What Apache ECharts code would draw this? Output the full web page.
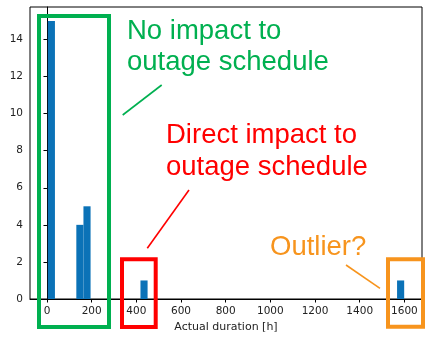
<!DOCTYPE html>
<html>
<head>
<meta charset="utf-8">
<script src="https://cdn.jsdelivr.net/npm/echarts@6/dist/echarts.min.js"></script>
<style>
  html, body { margin: 0; padding: 0; background: #fff; }
  #chart { width: 430px; height: 342px; }
</style>
</head>
<body>
<div id="chart"></div>
<script>
// Histogram of actual outage durations (hours), 50 bins; only non-empty bins listed
const binLeft  = [3.8, 131.4, 163.3, 418.5, 1567.1];
const binRight = [35.7, 163.3, 195.2, 450.4, 1599.0];
const counts   = [15, 4, 5, 1, 1];

const xTicks = [0, 200, 400, 600, 800, 1000, 1200, 1400, 1600];
const yTicks = [0, 2, 4, 6, 8, 10, 12, 14];
const xRange = [-75.96, 1678.76];
const yRange = [0, 15.75];

const barColor = '#0b72b7';
const green = '#00b050';
const red = '#ff0000';
const orange = '#f7941d';
const labelFont = 'DejaVu Sans';
const noteFont = '"Liberation Sans", Arial, sans-serif';

const bins = binLeft.map((l, i) => [l, binRight[i], counts[i]]);

const chart = echarts.init(document.getElementById('chart'), null, { renderer: 'canvas' });

function note(text, x, y, color) {
  return {
    type: 'text', z: 100, x: x, y: y,
    style: { text: text, fill: color, font: '27.5px ' + noteFont, verticalAlign: 'middle', align: 'left' }
  };
}
function box(x, y, w, h, color) {
  return {
    type: 'rect', z: 100,
    shape: { x: x, y: y, width: w, height: h },
    style: { fill: 'none', stroke: color, lineWidth: 4 }
  };
}
function pointer(x1, y1, x2, y2, color) {
  return {
    type: 'line', z: 100,
    shape: { x1: x1, y1: y1, x2: x2, y2: y2 },
    style: { stroke: color, lineWidth: 1.6 }
  };
}
const plain = v => String(v);

chart.setOption({
  animation: false,
  backgroundColor: '#fff',
  grid: { left: 30, top: 7, right: 8, bottom: 43, show: true, borderColor: '#000', borderWidth: 1, backgroundColor: 'transparent' },
  xAxis: {
    type: 'value', min: xRange[0], max: xRange[1],
    name: 'Actual duration [h]', nameLocation: 'middle', nameGap: 21,
    nameTextStyle: { fontFamily: labelFont, fontSize: 11, color: '#222' },
    axisLine: { show: true, lineStyle: { color: '#000', width: 1 } },
    axisTick: { show: true, customValues: xTicks, length: 3.5, lineStyle: { color: '#000' } },
    axisLabel: { customValues: xTicks, formatter: plain, margin: 7, fontFamily: labelFont, fontSize: 10.5, color: '#222' },
    splitLine: { show: false }
  },
  yAxis: {
    type: 'value', min: yRange[0], max: yRange[1],
    axisLine: { show: true, lineStyle: { color: '#000', width: 1 } },
    axisTick: { show: true, customValues: yTicks, length: 3.5, lineStyle: { color: '#000' } },
    axisLabel: { customValues: yTicks, formatter: plain, margin: 7, fontFamily: labelFont, fontSize: 10.5, color: '#222' },
    splitLine: { show: false }
  },
  series: [{
    type: 'custom',
    data: bins,
    renderItem: function (params, api) {
      const p0 = api.coord([api.value(0), 0]);
      const p1 = api.coord([api.value(1), api.value(2)]);
      return {
        type: 'rect',
        shape: { x: p0[0], y: p1[1], width: p1[0] - p0[0], height: p0[1] - p1[1] },
        style: { fill: barColor }
      };
    },
    encode: { x: [0, 1], y: 2 }
  }],
  graphic: [
    box(39, 16, 70, 311, green),
    box(122, 259.3, 33.7, 67.7, red),
    box(388, 259.3, 35, 67.5, orange),
    note('No impact to', 127, 31, green),
    note('outage schedule', 127, 62.5, green),
    pointer(122.7, 115, 161.7, 85, green),
    note('Direct impact to', 166, 135.5, red),
    note('outage schedule', 166, 167, red),
    pointer(147.3, 248.3, 189, 190, red),
    note('Outlier?', 270, 247, orange),
    pointer(346, 265, 380, 288.3, orange)
  ]
});
</script>
</body>
</html>
